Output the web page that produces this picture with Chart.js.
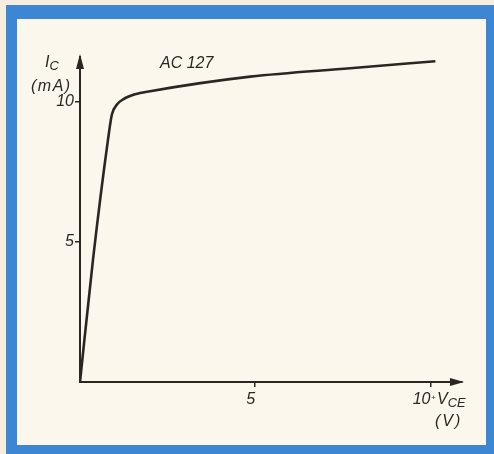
<!DOCTYPE html>
<html>
<head>
<meta charset="utf-8">
<script src="https://cdn.jsdelivr.net/npm/chart.js@4"></script>
<style>
html,body{margin:0;padding:0;background:#f5eedf;}
#wrap{position:relative;width:494px;height:454px;overflow:hidden;}
#frame{position:absolute;left:6px;top:5px;width:488px;height:449px;box-sizing:border-box;
  border-style:solid;border-color:#3d86d4;border-width:14px 8px 9px 11px;background:#fcf7ec;}
#box{position:absolute;left:0;top:0;width:494px;height:454px;}
.lbl{position:absolute;font-family:"Liberation Sans",Arial,sans-serif;font-style:italic;color:#2b2622;white-space:nowrap;line-height:1;}
.lbl sub{font-size:0.8em;vertical-align:-0.25em;}
</style>
</head>
<body>
<div id="wrap">
<div id="frame"></div>
<div id="box"><canvas id="curve"></canvas></div>
<div class="lbl" style="left:45px;top:54px;font-size:16px;">I<sub>C</sub></div>
<div class="lbl" style="left:31px;top:78px;font-size:16px;letter-spacing:1.5px;">(mA)</div>
<div class="lbl" style="left:160px;top:55px;font-size:16px;">AC 127</div>
<div class="lbl" style="left:431px;top:394px;font-size:8px;">+</div>
<div class="lbl" style="left:437px;top:391px;font-size:16px;">V<sub>CE</sub></div>
<div class="lbl" style="left:435px;top:413px;font-size:16px;letter-spacing:2px;">(V)</div>
</div>

<script>
// V_CE (V) and I_C (mA)
const vce = [0, 0.37, 0.80, 0.91, 1.06, 1.23, 1.57, 2.0, 4.86, 7.71, 10.14]
const ic = [0, 4.36, 8.66, 9.55, 9.91, 10.09, 10.27, 10.38, 10.9, 11.2, 11.45]
const xTicks = [5, 10]
const yTicks = [5, 10]

const ink = "#2b2622"
const tickFont = {family:"Liberation Sans", style:"italic", size:16}

const arrows = {
  id:"arrows",
  afterDraw(chart){
    const c = chart.ctx, a = chart.chartArea
    c.save()
    c.fillStyle = ink
    c.beginPath()
    c.moveTo(a.left, a.top - 3)
    c.lineTo(a.left - 4, a.top + 12)
    c.lineTo(a.left + 4, a.top + 12)
    c.closePath()
    c.fill()
    c.beginPath()
    c.moveTo(a.right + 2, a.bottom)
    c.lineTo(a.right - 12, a.bottom - 4)
    c.lineTo(a.right - 12, a.bottom + 4)
    c.closePath()
    c.fill()
    c.restore()
  }
}

new Chart(document.getElementById("curve"), {
  type:"line",
  data:{
    datasets:[{
      data: vce.map((v,i)=>({x:v, y:ic[i]})),
      borderColor: ink,
      borderWidth: 2.6,
      pointRadius: 0,
      fill: false,
      cubicInterpolationMode: "monotone"
    }]
  },
  options:{
    responsive:true,
    maintainAspectRatio:false,
    animation:false,
    layout:{padding:{left:0, top:57, right:32, bottom:42}},
    plugins:{legend:{display:false}, tooltip:{enabled:false}},
    scales:{
      x:{
        type:"linear", min:0, max:10.9,
        afterBuildTicks(s){ s.ticks = xTicks.map(v=>({value:v})) },
        afterFit(s){ s.height = 30 },
        grid:{drawOnChartArea:false, color:ink, tickLength:5, lineWidth:1.5},
        border:{color:ink, width:2},
        ticks:{color:ink, font:tickFont, padding:3, maxRotation:0, align:"end"}
      },
      y:{
        type:"linear", min:0, max:11.6,
        afterBuildTicks(s){ s.ticks = yTicks.map(v=>({value:v})) },
        afterFit(s){ s.width = 80 },
        grid:{drawOnChartArea:false, color:ink, tickLength:5, lineWidth:1.5},
        border:{color:ink, width:2},
        ticks:{color:ink, font:tickFont, padding:1}
      }
    }
  },
  plugins:[arrows]
})
</script>
</body>
</html>
